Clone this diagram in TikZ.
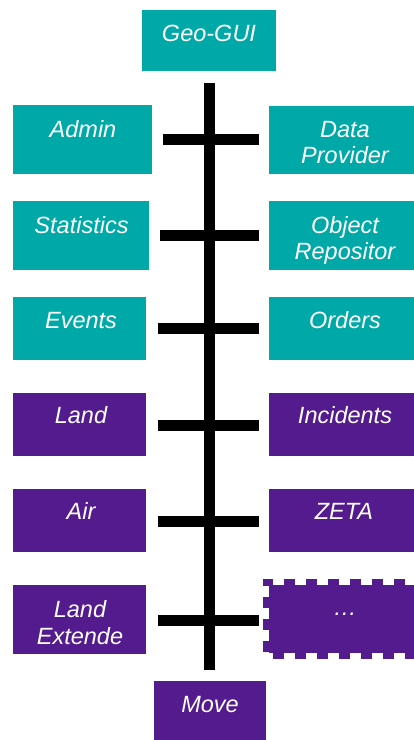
\documentclass[tikz,border=0pt]{standalone}
\usepackage{fontspec}
\setmainfont{Liberation Sans}
\definecolor{tealc}{HTML}{00A9A8}
\definecolor{purpc}{HTML}{541B8E}
\begin{document}
\begin{tikzpicture}[x=1pt,y=-1pt,
  boxbase/.style={rectangle, inner sep=0pt, outer sep=0pt, anchor=north west},
  tealbox/.style={boxbase, fill=tealc},
  purpbox/.style={boxbase, fill=purpc},
  lbl/.style={text=white, font=\fontsize{23.5}{27}\selectfont\itshape, anchor=base, inner sep=0pt},
  bus/.style={line width=11pt, black}]
\useasboundingbox (0,0) rectangle (414,740);
% teal boxes
\node[tealbox, minimum width=134pt, minimum height=61pt] (geo) at (142,10) {};
\node[tealbox, minimum width=139pt, minimum height=69pt] (admin) at (13,105) {};
\node[tealbox, minimum width=145pt, minimum height=68pt] (dataprov) at (269,106) {};
\node[tealbox, minimum width=136pt, minimum height=69pt] (stats) at (13,201) {};
\node[tealbox, minimum width=145pt, minimum height=69pt] (objrepo) at (269,201) {};
\node[tealbox, minimum width=133pt, minimum height=63pt] (events) at (13,297) {};
\node[tealbox, minimum width=145pt, minimum height=63pt] (orders) at (269,297) {};
% purple boxes
\node[purpbox, minimum width=133pt, minimum height=63pt] (land) at (13,393) {};
\node[purpbox, minimum width=145pt, minimum height=63pt] (incidents) at (269,393) {};
\node[purpbox, minimum width=133pt, minimum height=63pt] (air) at (13,489) {};
\node[purpbox, minimum width=145pt, minimum height=63pt] (zeta) at (269,489) {};
\node[purpbox, minimum width=133pt, minimum height=69pt] (landext) at (13,585) {};
\node[purpbox, minimum width=150pt, minimum height=68pt] (dots) at (269,585) {};
\draw[purpc, line width=6pt, dash pattern=on 11pt off 11pt, dash phase=5pt]
  ([xshift=3pt,yshift=3pt]dots.north east) -- ([xshift=-3pt,yshift=3pt]dots.north west)
  -- ([xshift=-3pt,yshift=-3pt]dots.south west) -- ([xshift=3pt,yshift=-3pt]dots.south east);
\node[purpbox, minimum width=112pt, minimum height=62pt] (move) at (154,681) {};
% bus
\coordinate (bustop) at (209,83);
\coordinate (busbot) at (209,670);
\draw[bus] (bustop) -- (busbot);
\coordinate (r1l) at (163,139.5); \coordinate (r1r) at (259,139.5);
\coordinate (r2l) at (160,235.5); \coordinate (r2r) at (259,235.5);
\coordinate (r3l) at (158,328.5); \coordinate (r3r) at (259,328.5);
\coordinate (r4l) at (158,425);   \coordinate (r4r) at (259,425);
\coordinate (r5l) at (158,521);   \coordinate (r5r) at (259,521);
\coordinate (r6l) at (158,620);   \coordinate (r6r) at (259,620);
\draw[bus] (r1l) -- (r1r);
\draw[bus] (r2l) -- (r2r);
\draw[bus] (r3l) -- (r3r);
\draw[bus] (r4l) -- (r4r);
\draw[bus] (r5l) -- (r5r);
\draw[bus] (r6l) -- (r6r);
% labels
\node[lbl] (tgeo) at (209,41) {Geo-GUI};
\node[lbl] (tadmin) at (83,137) {Admin};
\node[lbl] (tdata) at (345,137) {Data};
\node[lbl] (tprov) at (345,163) {Provider};
\node[lbl] (tstats) at (81.5,233) {Statistics};
\node[lbl] (tobj) at (345,233) {Object};
\node[lbl] (trepo) at (345,259) {Repositor};
\node[lbl] (tevents) at (81,328) {Events};
\node[lbl] (torders) at (345,328) {Orders};
\node[lbl] (tland) at (81,423) {Land};
\node[lbl] (tinc) at (345,423) {Incidents};
\node[lbl] (tair) at (81,519) {Air};
\node[lbl] (tzeta) at (344,519) {ZETA};
\node[lbl] (tland2) at (80,617) {Land};
\node[lbl] (text2) at (80,644) {Extende};
\node[lbl] (tdots) at (345,615) {…};
\node[lbl] (tmove) at (210,712) {Move};
\end{tikzpicture}
\end{document}
